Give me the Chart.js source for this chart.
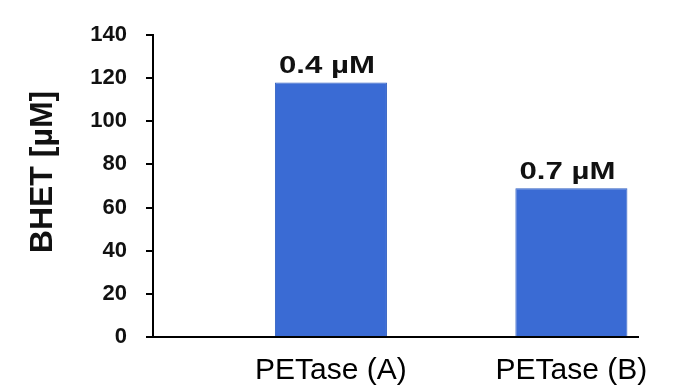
<!DOCTYPE html>
<html>
<head>
<meta charset="utf-8">
<script src="https://cdn.jsdelivr.net/npm/chart.js@4"></script>
<style>
  html, body { margin: 0; padding: 0; background: #fff; }
  #wrap { width: 682px; height: 391px; }
</style>
</head>
<body>
<div id="wrap"><canvas id="chart"></canvas></div>
<script>
const LABELS = ["PETase (A)", "PETase (B)"];
const VALUES = [118, 69];
const BAR_NOTES = ["0.4 µM", "0.7 µM"];
const Y_TICKS = [0, 20, 40, 60, 80, 100, 120, 140];
const Y_TITLE = "BHET [µM]";

const FONT = "'Liberation Sans', Arial, sans-serif";

// note above each bar, read from the bar element itself
const barNotes = {
  id: "barNotes",
  afterDatasetsDraw(chart) {
    const ctx = chart.ctx;
    const meta = chart.getDatasetMeta(0);
    ctx.save();
    ctx.fillStyle = "#111";
    ctx.font = "bold 24px " + FONT;
    ctx.textAlign = "center";
    ctx.textBaseline = "alphabetic";
    meta.data.forEach((bar, i) => {
      ctx.save();
      ctx.translate(bar.x - 4, bar.y - 9);
      ctx.scale(1.3, 1);
      ctx.fillText(BAR_NOTES[i], 0, 0);
      ctx.restore();
    });
    ctx.restore();
  }
};

// rotated y title, placed a bit above the middle like the original
const yTitle = {
  id: "yTitle",
  afterDraw(chart) {
    const ctx = chart.ctx;
    ctx.save();
    ctx.translate(43, 172);
    ctx.rotate(-Math.PI / 2);
    ctx.font = "bold 32px " + FONT;
    ctx.fillStyle = "#111";
    ctx.textAlign = "center";
    ctx.textBaseline = "middle";
    ctx.fillText(Y_TITLE, 0, 0);
    ctx.restore();
  }
};

new Chart(document.getElementById("chart"), {
  type: "bar",
  data: {
    datasets: [{
      data: LABELS.map((l, i) => ({ x: i + 1, y: VALUES[i] })),
      backgroundColor: "#3a6bd4",
      borderColor: "#3160c2",
      borderWidth: 1,
      barPercentage: 0.466,
      categoryPercentage: 1,
    }],
  },
  options: {
    responsive: true,
    maintainAspectRatio: false,
    animation: false,
    layout: { padding: { left: 0, right: 44, top: 35, bottom: 0 } },
    plugins: { legend: { display: false }, tooltip: { enabled: false } },
    scales: {
      x: {
        type: "linear",
        offset: false,
        min: 0.26,
        max: 2.277,
        afterBuildTicks: s => { s.ticks = LABELS.map((l, i) => ({ value: i + 1 })); },
        afterFit: s => { s.height = 54; },
        ticks: {
          color: "#000",
          font: { family: FONT, size: 30 },
          padding: 8,
          maxRotation: 0,
          autoSkip: false,
          callback: v => LABELS[v - 1],
        },
        grid: { display: false },
        border: { display: true, color: "#000", width: 2 },
      },
      y: {
        min: 0,
        max: 140,
        afterBuildTicks: s => { s.ticks = Y_TICKS.map(v => ({ value: v })); },
        afterFit: s => { s.width = 153; },
        ticks: {
          color: "#111",
          font: { family: FONT, size: 22, weight: "bold" },
          padding: 19,
        },
        grid: { drawOnChartArea: false, tickLength: 7, color: "#000", lineWidth: 2 },
        border: { display: true, color: "#000", width: 2 },
      },
    },
  },
  plugins: [barNotes, yTitle],
});
</script>
</body>
</html>
